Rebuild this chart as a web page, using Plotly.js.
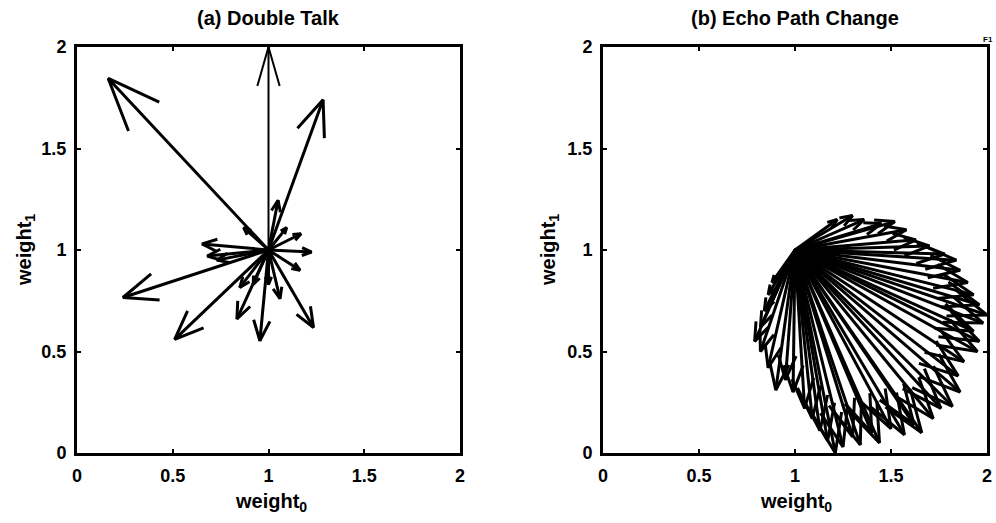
<!DOCTYPE html>
<html>
<head>
<meta charset="utf-8">
<script src="https://cdn.plot.ly/plotly-3.0.1.min.js"></script>
<style>html,body{margin:0;padding:0;background:#fff;}#chart{width:996px;height:523px;}</style>
</head>
<body>
<div id="chart"></div>
<script>
// ---- data ----
const titleA = "(a) Double Talk";
const titleB = "(b) Echo Path Change";
const tickVals = [0, 0.5, 1, 1.5, 2];
const tickText = ["0", "0.5", "1", "1.5", "2"];

// common origin of all weight vectors
const originA = [1.0, 1.0];
const originB = [1.0, 1.0];

// (a) Double talk: arrow tips
const dtTipX = [0.163, 1.285, 0.24, 0.51, 0.955, 0.835, 1.235, 0.653, 0.68, 0.73, 1.225, 1.17, 1.165, 1.05, 0.87, 1.06, 0.85, 1.095, 0.92, 1.0];
const dtTipY = [1.845, 1.74, 0.766, 0.56, 0.553, 0.66, 0.618, 1.03, 0.97, 0.95, 0.99, 1.08, 0.90, 1.245, 1.11, 0.76, 0.815, 1.11, 0.83, 0.83];
// the long vertical arrow
const dtUpX = [1.0];
const dtUpY = [2.0];

// (b) Echo path change: arrow tips
const epTipX = [1.22, 1.30, 1.36, 1.45, 1.52, 1.58, 1.63, 1.70, 1.78, 1.84, 1.86, 1.90, 1.93, 1.96, 2.00, 1.98, 1.93, 1.96, 1.95, 1.88, 1.85, 1.86, 1.82, 1.76, 1.72, 1.66, 1.62, 1.57, 1.50, 1.44, 1.40, 1.34, 1.30, 1.25, 1.21, 1.17, 1.13, 1.09, 1.05, 0.99, 0.95, 0.90, 0.86, 0.82, 0.79, 0.82, 0.84, 0.86, 0.88];
const epTipY = [1.15, 1.17, 1.15, 1.13, 1.14, 1.10, 1.05, 1.02, 0.98, 0.95, 0.90, 0.84, 0.78, 0.73, 0.68, 0.64, 0.60, 0.55, 0.50, 0.45, 0.38, 0.30, 0.23, 0.22, 0.17, 0.10, 0.14, 0.09, 0.12, 0.05, 0.10, 0.04, 0.08, 0.03, 0.00, 0.06, 0.11, 0.17, 0.22, 0.30, 0.36, 0.31, 0.42, 0.50, 0.55, 0.62, 0.70, 0.78, 0.84];

// ---- arrow geometry (quiver-style open heads) ----
const SX = 192, SY = 203; // approx pixels per data unit, keeps heads symmetric on screen
function quiver(origin, tx, ty, frac, angDeg) {
  const X = [], Y = [];
  const a = angDeg * Math.PI / 180;
  for (let i = 0; i < tx.length; i++) {
    const dx = (tx[i] - origin[0]) * SX, dy = (ty[i] - origin[1]) * SY;
    const L = Math.hypot(dx, dy);
    if (L === 0) continue;
    const ux = dx / L, uy = dy / L, h = frac * L;
    X.push(origin[0], tx[i], null);
    Y.push(origin[1], ty[i], null);
    const r1x = ux * Math.cos(a) - uy * Math.sin(a), r1y = ux * Math.sin(a) + uy * Math.cos(a);
    const r2x = ux * Math.cos(-a) - uy * Math.sin(-a), r2y = ux * Math.sin(-a) + uy * Math.cos(-a);
    X.push(tx[i] - h * r1x / SX, tx[i], tx[i] - h * r2x / SX, null);
    Y.push(ty[i] - h * r1y / SY, ty[i], ty[i] - h * r2y / SY, null);
  }
  return {x: X, y: Y};
}

const qa = quiver(originA, dtTipX, dtTipY, 0.24, 22);
const qu = quiver(originA, dtUpX, dtUpY, 0.2, 16);
const qb = quiver(originB, epTipX, epTipY, 0.2, 20);

const traces = [
  {type: 'scatter', mode: 'lines', x: qa.x, y: qa.y, xaxis: 'x', yaxis: 'y', line: {color: '#000', width: 3}, hoverinfo: 'skip'},
  {type: 'scatter', mode: 'lines', x: qu.x, y: qu.y, xaxis: 'x', yaxis: 'y', line: {color: '#000', width: 2}, hoverinfo: 'skip'},
  {type: 'scatter', mode: 'lines', x: qb.x, y: qb.y, xaxis: 'x2', yaxis: 'y2', line: {color: '#000', width: 3}, hoverinfo: 'skip'}
];

const FONT = 'Liberation Sans, Arial, Helvetica, sans-serif';
function axis(domain, anchor) {
  return {
    domain: domain, anchor: anchor, range: [0, 2], fixedrange: true,
    tickvals: tickVals, ticktext: tickText.map(t => '<b>' + t + '</b>'),
    ticks: 'inside', ticklen: 4, tickwidth: 2, tickcolor: '#000',
    showline: true, linecolor: '#000', linewidth: 3, mirror: 'allticks',
    showgrid: false, zeroline: false,
    tickfont: {family: FONT, size: 18, color: '#000'},
    ticklabelstandoff: 4
  };
}

const yDom = [1 - 453 / 523, 1 - 47 / 523];
const tf = {family: FONT, size: 20, color: '#000'};
const af = {family: FONT, size: 20, color: '#000'};
const layout = {
  width: 996, height: 523,
  margin: {l: 0, r: 0, t: 0, b: 0},
  paper_bgcolor: '#fff', plot_bgcolor: '#fff',
  showlegend: false,
  xaxis: axis([77 / 996, 460 / 996], 'y'),
  yaxis: axis(yDom, 'x'),
  xaxis2: axis([603 / 996, 987 / 996], 'y2'),
  yaxis2: axis(yDom, 'x2'),
  annotations: [
    {text: '<b>' + titleA + '</b>', xref: 'paper', yref: 'paper', x: 268 / 996, y: 1 - 18 / 523, showarrow: false, xanchor: 'center', yanchor: 'middle', font: tf},
    {text: '<b>' + titleB + '</b>', xref: 'paper', yref: 'paper', x: 795 / 996, y: 1 - 18 / 523, showarrow: false, xanchor: 'center', yanchor: 'middle', font: tf},
    {text: '<b>weight<sub>0</sub></b>', xref: 'paper', yref: 'paper', x: 271 / 996, y: 1 - 502 / 523, showarrow: false, xanchor: 'center', yanchor: 'middle', font: af},
    {text: '<b>weight<sub>0</sub></b>', xref: 'paper', yref: 'paper', x: 796 / 996, y: 1 - 502 / 523, showarrow: false, xanchor: 'center', yanchor: 'middle', font: af},
    {text: '<b>weight<sub>1</sub></b>', xref: 'paper', yref: 'paper', x: 25 / 996, y: 1 - 250 / 523, showarrow: false, textangle: -90, xanchor: 'center', yanchor: 'middle', font: af},
    {text: '<b>weight<sub>1</sub></b>', xref: 'paper', yref: 'paper', x: 549 / 996, y: 1 - 250 / 523, showarrow: false, textangle: -90, xanchor: 'center', yanchor: 'middle', font: af},
    {text: '<b>F1</b>', xref: 'paper', yref: 'paper', x: 995 / 996, y: 1 - 40 / 523, showarrow: false, xanchor: 'right', yanchor: 'middle', font: {family: FONT, size: 8, color: '#000'}}
  ]
};

Plotly.newPlot('chart', traces, layout, {staticPlot: true, displayModeBar: false});
</script>
</body>
</html>
